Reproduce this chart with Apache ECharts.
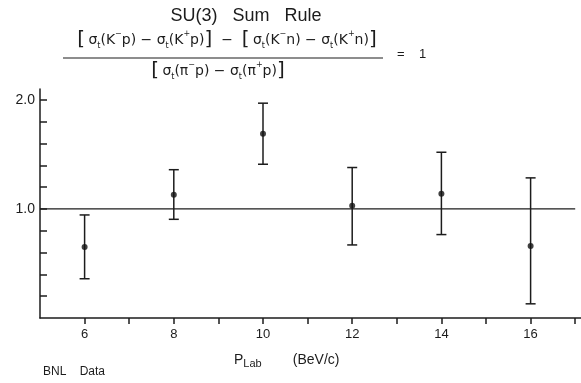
<!DOCTYPE html>
<html>
<head>
<meta charset="utf-8">
<script src="https://cdn.jsdelivr.net/npm/echarts@6/dist/echarts.min.js"></script>
<style>
  html, body { margin: 0; padding: 0; background: #fff; }
  #box { width: 581px; height: 383px; }
</style>
</head>
<body>
<div id="box"></div>
<script>
// 数据
var momentum = [6, 8, 10, 12, 14, 16];
var ratio    = [0.65, 1.13, 1.69, 1.03, 1.14, 0.66];
var errLow   = [0.36, 0.905, 1.41, 0.67, 0.765, 0.13];
var errHigh  = [0.945, 1.36, 1.97, 1.38, 1.52, 1.285];

var xTicks  = [6, 7, 8, 9, 10, 11, 12, 13, 14, 15, 16, 17];
var xLabels = [6, 8, 10, 12, 14, 16];
var yTicks  = [0.2, 0.4, 0.6, 0.8, 1.0, 1.2, 1.4, 1.6, 1.8, 2.0];
var yLabels = [1.0, 2.0];

var refLineX = [5, 17];
var refValue = 1;

var ink = '#1c1c1c';
var font = 'Liberation Sans';

var pts = momentum.map(function (p, i) { return [p, ratio[i]]; });
var bars = momentum.map(function (p, i) { return [p, errLow[i], errHigh[i]]; });

// build sigma_t(X^s y) pieces as rich text
function sig(a, sup, b) {
  return '{s|σ}{t|t}{s|(' + a + '}{u|' + sup + '}{s|' + b + ')}';
}
var numer = '{b|[} ' + sig('K', '−', 'p') + '{s| − }' + sig('K', '+', 'p') + '{b|]}{s|  −  }' +
            '{b|[} ' + sig('K', '−', 'n') + '{s| − }' + sig('K', '+', 'n') + '{b|]}';
var denom = '{b|[} ' + sig('π', '−', 'p') + '{s| − }' + sig('π', '+', 'p') + '{b|]}';

var rich = {
  s: { fontSize: 14, lineHeight: 20, fontFamily: 'DejaVu Sans', fill: ink },
  t: { fontSize: 8, lineHeight: 8, verticalAlign: 'bottom', fontFamily: 'DejaVu Sans', fill: ink },
  u: { fontSize: 8, lineHeight: 8, verticalAlign: 'top', fontFamily: 'DejaVu Sans', fill: ink },
  b: { fontSize: 20, lineHeight: 20, fontFamily: 'DejaVu Sans', fill: ink }
};

var myChart = echarts.init(document.getElementById('box'));

var option = {
  backgroundColor: '#fff',
  animation: false,
  grid: { left: 40, right: 0, top: 89, bottom: 65 },
  xAxis: {
    type: 'value',
    min: 5,
    max: 17.13,
    axisLine: { lineStyle: { color: ink, width: 1.5 } },
    axisTick: { show: true, length: 6, lineStyle: { color: ink, width: 1.5 }, customValues: xTicks },
    axisLabel: {
      customValues: xLabels, color: ink, fontSize: 13, fontFamily: font, margin: 10
    },
    splitLine: { show: false }
  },
  yAxis: {
    type: 'value',
    min: 0,
    max: 2.1,
    axisLine: { show: true, lineStyle: { color: ink, width: 1.5 } },
    axisTick: { show: true, inside: true, length: 7, lineStyle: { color: ink, width: 1.5 }, customValues: yTicks },
    axisLabel: {
      customValues: yLabels, color: ink, fontSize: 14, fontFamily: font, margin: 5,
      formatter: function (v) { return v.toFixed(1); }
    },
    splitLine: { show: false }
  },
  graphic: [
    { type: 'text', x: 246, y: 7,
      style: { text: 'SU(3)   Sum   Rule', font: '18px "Liberation Sans"', fill: ink, align: 'center', verticalAlign: 'top' } },
    { type: 'text', x: 227, y: 30,
      style: { text: numer, rich: rich, align: 'center', verticalAlign: 'top' } },
    { type: 'line', shape: { x1: 63, y1: 58, x2: 383, y2: 58 }, style: { stroke: ink, lineWidth: 1.2 } },
    { type: 'text', x: 218, y: 61,
      style: { text: denom, rich: rich, align: 'center', verticalAlign: 'top' } },
    { type: 'text', x: 397, y: 48,
      style: { text: '=    1', font: '13px "Liberation Sans"', fill: ink, verticalAlign: 'top' } },
    { type: 'text', x: 234, y: 351,
      style: {
        text: '{p|P}{l|Lab}{n|        (BeV/c)}',
        rich: {
          p: { fontSize: 14, lineHeight: 18, fontFamily: font, fill: ink },
          l: { fontSize: 11, lineHeight: 11, verticalAlign: 'bottom', fontFamily: font, fill: ink },
          n: { fontSize: 14, lineHeight: 18, fontFamily: font, fill: ink }
        },
        verticalAlign: 'top'
      } },
    { type: 'text', x: 43, y: 366,
      style: { text: 'BNL    Data', font: '12px "Liberation Sans"', fill: ink, verticalAlign: 'top' } }
  ],
  series: [
    {
      type: 'line',
      data: [[refLineX[0], refValue], [refLineX[1], refValue]],
      symbol: 'none',
      lineStyle: { color: ink, width: 1.3 },
      silent: true
    },
    {
      type: 'custom',
      data: bars,
      renderItem: function (params, api) {
        var x = api.value(0);
        var lo = api.coord([x, api.value(1)]);
        var hi = api.coord([x, api.value(2)]);
        var w = 5;
        var st = { stroke: ink, lineWidth: 1.5 };
        return {
          type: 'group',
          children: [
            { type: 'line', shape: { x1: lo[0], y1: lo[1], x2: hi[0], y2: hi[1] }, style: st },
            { type: 'line', shape: { x1: hi[0] - w, y1: hi[1], x2: hi[0] + w, y2: hi[1] }, style: st },
            { type: 'line', shape: { x1: lo[0] - w, y1: lo[1], x2: lo[0] + w, y2: lo[1] }, style: st }
          ]
        };
      }
    },
    {
      type: 'scatter',
      data: pts,
      symbol: 'circle',
      symbolSize: 6,
      itemStyle: { color: '#111' }
    }
  ]
};

myChart.setOption(option);
</script>
</body>
</html>
